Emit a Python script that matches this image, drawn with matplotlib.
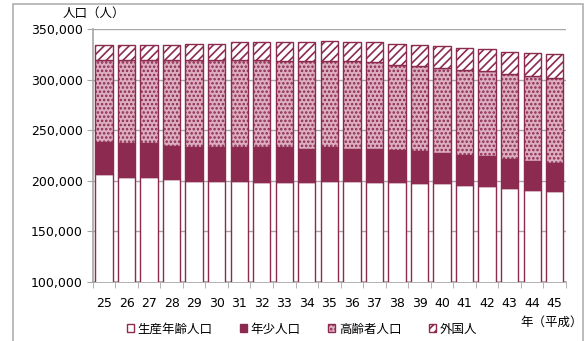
import matplotlib
matplotlib.use("Agg")
import matplotlib.pyplot as plt
import matplotlib.patches as mpatches
import numpy as np

plt.rcParams["font.family"] = ["DejaVu Sans", "Noto Sans CJK JP"]
plt.rcParams["hatch.linewidth"] = 1.2

# ---------------------------------------------------------------------------
#  Data (persons)
# ---------------------------------------------------------------------------
YEARS = [str(y) for y in range(25, 46)]

WORKING = [206400, 203800, 203800, 201500, 200100, 200100, 200100, 198800,
           198800, 198800, 200100, 200100, 198800, 198800, 197500, 197500,
           196200, 194900, 192600, 191200, 189900]
YOUNG = [32000, 33200, 33200, 32900, 33000, 33000, 33000, 34300, 34300,
         32900, 33000, 31600, 32900, 31650, 31700, 30300, 29300, 29300,
         29300, 28100, 28000]
ELDERLY = [81000, 82400, 82400, 85000, 86300, 86300, 86300, 86300, 85300,
           86700, 85300, 86700, 85400, 83950, 83900, 84000, 84000, 84000,
           83600, 84000, 83400]
FOREIGN = [14600, 14600, 14400, 14400, 15900, 15900, 17300, 17300, 18300,
           18300, 19400, 18400, 19600, 21000, 21000, 21100, 22000, 22000,
           22100, 23200, 24000]

SERIES_LABELS = ["生産年齢人口", "年少人口", "高齢者人口", "外国人"]
Y_TICKS = [100000, 150000, 200000, 250000, 300000, 350000]

MAROON = "#8c2a4f"
GRID = "#a6a6a6"

# ---------------------------------------------------------------------------
#  Plot
# ---------------------------------------------------------------------------
fig = plt.figure(figsize=(5.85, 3.41), dpi=100)
ax = fig.add_axes([92.7 / 585, 1 - 282 / 341, (566 - 92.7) / 585, (282 - 29) / 341])

x = np.arange(len(YEARS))
w = 0.77
work = np.array(WORKING)
young = np.array(YOUNG)
eld = np.array(ELDERLY)
frn = np.array(FOREIGN)

b1 = ax.bar(x, work, w, color="white", edgecolor=MAROON, linewidth=1.0, zorder=3)
b2 = ax.bar(x, young, w, bottom=work, color=MAROON, edgecolor=MAROON,
            linewidth=1.0, zorder=3)
b3 = ax.bar(x, eld, w, bottom=work + young, color="#dcaec0", edgecolor=MAROON,
            hatch="....", linewidth=1.0, zorder=3)
b4 = ax.bar(x, frn, w, bottom=work + young + eld, color="white",
            edgecolor=MAROON, hatch="////", linewidth=1.0, zorder=3)

ax.set_xlim(-0.5, len(YEARS) - 0.5)
ax.set_ylim(100000, 350000)
ax.set_yticks(Y_TICKS)
ax.set_yticklabels([f"{v:,}" for v in Y_TICKS], fontsize=9)
ax.set_xticks(x)
ax.set_xticklabels(YEARS, fontsize=9)
ax.set_xticks(np.arange(len(YEARS) + 1) - 0.5, minor=True)
ax.tick_params(axis="x", which="major", length=0, pad=11)
ax.tick_params(axis="x", which="minor", length=4, color=GRID, direction="out")
ax.tick_params(axis="y", length=4, color=GRID, pad=3)

ax.grid(True, axis="y", color=GRID, linewidth=1.0, zorder=0)
ax.set_axisbelow(True)
for side in ["top", "right"]:
    ax.spines[side].set_visible(False)
for side in ["left", "bottom"]:
    ax.spines[side].set_color(GRID)
    ax.spines[side].set_linewidth(1.2)

fig.text(94 / 585, 1 - 13 / 341, "人口（人）", fontsize=9, ha="center", va="center")
fig.text(552 / 585, 1 - 322 / 341, "年（平成）", fontsize=9, ha="center", va="center")

fig.legend([b1, b2, b3, b4], SERIES_LABELS, ncol=4, loc="center",
           bbox_to_anchor=(302 / 585, 1 - 329 / 341), frameon=False,
           fontsize=9, handlelength=0.55, handleheight=0.55,
           handletextpad=0.3, columnspacing=2.2, borderpad=0)

# outer frame of the chart area
fig.patches.append(mpatches.Rectangle((13 / 585, -0.05), 570 / 585, 1.05 - 4 / 341,
                                      transform=fig.transFigure, fill=False,
                                      edgecolor="#b0b0b0", linewidth=1.2))

fig.savefig("out.png", dpi=100)
